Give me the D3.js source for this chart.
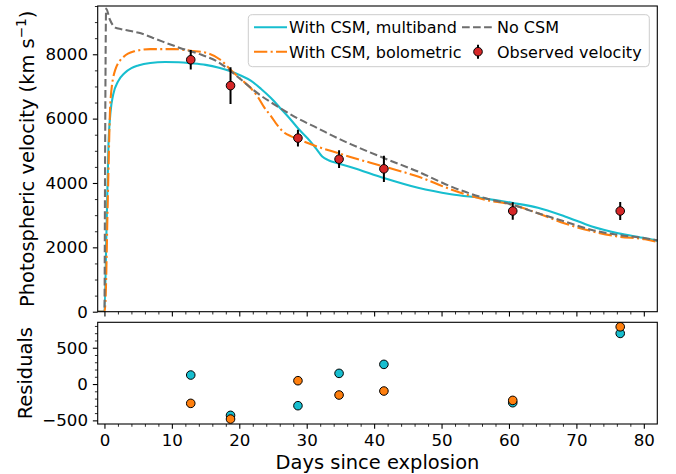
<!DOCTYPE html>
<html>
<head>
<meta charset="utf-8">
<script src="https://cdn.jsdelivr.net/npm/d3@7"></script>
<style>
  body { margin: 0; background: #fff; }
  svg text { font-family: "DejaVu Sans", sans-serif; fill: #000; }
</style>
</head>
<body>
<svg id="fig" width="676" height="474"></svg>
<script>
// ---- model curves: photospheric velocity (km/s) vs days since explosion ----
const multibandDays = [-1, 0, 0.3, 0.6, 0.9, 1.3, 2, 3, 4, 5, 6.8, 9, 11, 12.8, 15, 17, 18.7, 20.2, 21.7, 23.2, 24.7, 26.2, 27.7, 28.7, 30.6, 31.5, 32.3, 33.3, 34.6, 36.6, 41.5, 46.5, 51.4, 56.4, 60.4, 64.3, 68.3, 72.3, 76.2, 80.2, 82.2];
const multibandVel  = [0, 0, 2500, 5200, 6200, 6750, 7150, 7420, 7570, 7650, 7730, 7760, 7750, 7720, 7670, 7580, 7470, 7340, 7180, 6930, 6640, 6300, 5950, 5700, 5280, 5040, 4820, 4700, 4610, 4490, 4150, 3850, 3650, 3520, 3385, 3230, 2960, 2650, 2440, 2285, 2200];

const bolometricDays = [-1, 0, 0.15, 0.5, 0.9, 1.6, 2.9, 4.4, 6.8, 10.3, 12.8, 15.3, 17.2, 18.7, 20.2, 21.7, 22.7, 23.7, 24.7, 25.7, 26.7, 27.7, 28.6, 31.6, 34.6, 36.6, 41.5, 46.5, 51.4, 56.4, 60.4, 64.3, 68.3, 72.3, 76.2, 80.2, 82.2];
const bolometricVel  = [0, 0, 300, 3500, 6580, 7515, 7930, 8090, 8160, 8160, 8110, 8035, 7830, 7520, 7230, 6950, 6690, 6350, 6080, 5780, 5560, 5450, 5370, 5130, 4930, 4800, 4510, 4200, 3800, 3480, 3330, 3060, 2740, 2500, 2335, 2250, 2160];

const noCsmDays = [-1, 0, 0.1, 0.25, 0.8, 1.6, 2.5, 3.9, 5.4, 7.8, 11.3, 14.3, 16.7, 19.7, 22.7, 25.7, 28.6, 31.6, 34.6, 36.6, 41.5, 46.5, 51.4, 56.4, 60.4, 64.3, 68.3, 72.3, 76.2, 80.2, 82.2];
const noCsmVel  = [0, 0, 5000, 9420, 9080, 8830, 8780, 8720, 8650, 8460, 8190, 7990, 7780, 7310, 6790, 6375, 6015, 5705, 5390, 5200, 4770, 4355, 3890, 3530, 3330, 3060, 2800, 2540, 2385, 2285, 2210];

// ---- observed photospheric velocities ----
const obsDays = [12.8, 18.7, 28.7, 34.8, 41.45, 60.56, 76.5];
const obsVel  = [7830, 7025, 5395, 4740, 4440, 3130, 3130];
const obsErr  = [300, 570, 260, 275, 410, 270, 280];

// ---- residuals (observed minus model) ----
const residMultiband  = [124, -431, -298, 147, 271, -257, 697];
const residBolometric = [-266, -482, 46, -151, -96, -225, 788];

// ---- tick values ----
const dayTicks = [0, 10, 20, 30, 40, 50, 60, 70, 80];
const dayMinorTicks = d3.range(0, 82, 2);
const velTicks = [0, 2000, 4000, 6000, 8000];
const velMinorTicks = d3.range(0, 9501, 500);
const residTicks = [-500, 0, 500];
const residMinorTicks = d3.range(-500, 851, 100);

const legendEntries = ["With CSM, multiband", "No CSM", "With CSM, bolometric", "Observed velocity"];

// ---- styling ----
const C_MULTI = "#17becf", C_BOLO = "#ff7f0e", C_NOCSM = "#6e6e6e", C_OBS = "#d62728";
const LW = 2.08;
const DASH_BOLO = "13.3,3.33,2.08,3.33";
const DASH_NOCSM = "7.7,3.33";
const FONT_TICK = 16.67, FONT_LABEL = 19.44, FONT_LEGEND = 16;

const svg = d3.select("#fig");
svg.append("rect").attr("width", 676).attr("height", 474).attr("fill", "#fff");

const L = 97.7, R = 657.3;
const panelTop = { t: 6, b: 311.7 };
const panelBot = { t: 322.3, b: 424 };

const x = d3.scaleLinear().domain([-1, 82]).range([L, R]);
const yTop = d3.scaleLinear().domain([0, 9500]).range([panelTop.b, panelTop.t]);
const yBot = d3.scaleLinear().domain([-550, 850]).range([panelBot.b, panelBot.t]);

function styleAxis(g, labels) {
  g.select(".domain").remove();
  g.selectAll(".tick line").attr("stroke", "#000");
  g.selectAll(".tick text").attr("font-size", FONT_TICK).attr("font-family", "DejaVu Sans");
  if (!labels) g.selectAll(".tick text").remove();
}
function addAxis(axis, tx, ty, major, labels) {
  const g = svg.append("g").attr("transform", `translate(${tx},${ty})`).call(axis);
  styleAxis(g, labels);
  g.selectAll(".tick line").attr("stroke-width", major ? 1.1 : 0.83);
  return g;
}

// clip paths
svg.append("clipPath").attr("id", "clipTop").append("rect")
  .attr("x", L).attr("y", panelTop.t).attr("width", R - L).attr("height", panelTop.b - panelTop.t);
svg.append("clipPath").attr("id", "clipBot").append("rect")
  .attr("x", L - 6).attr("y", panelBot.t - 6).attr("width", R - L + 12).attr("height", panelBot.b - panelBot.t + 12);

// ---- top panel: model curves ----
const gTop = svg.append("g").attr("clip-path", "url(#clipTop)");
const line = d3.line().x(d => x(d[0])).y(d => yTop(d[1])).curve(d3.curveMonotoneX);

gTop.append("path").datum(d3.zip(multibandDays, multibandVel))
  .attr("d", line).attr("fill", "none").attr("stroke", C_MULTI).attr("stroke-width", LW);
gTop.append("path").datum(d3.zip(bolometricDays, bolometricVel))
  .attr("d", line).attr("fill", "none").attr("stroke", C_BOLO).attr("stroke-width", LW)
  .attr("stroke-dasharray", DASH_BOLO);
gTop.append("path").datum(d3.zip(noCsmDays, noCsmVel))
  .attr("d", line).attr("fill", "none").attr("stroke", C_NOCSM).attr("stroke-width", LW)
  .attr("stroke-dasharray", DASH_NOCSM);

// observed points with error bars
const obs = d3.zip(obsDays, obsVel, obsErr);
gTop.selectAll(".err").data(obs).join("line")
  .attr("x1", d => x(d[0])).attr("x2", d => x(d[0]))
  .attr("y1", d => yTop(d[1] - d[2])).attr("y2", d => yTop(d[1] + d[2]))
  .attr("stroke", "#000").attr("stroke-width", 2);
gTop.selectAll(".obs").data(obs).join("circle")
  .attr("cx", d => x(d[0])).attr("cy", d => yTop(d[1])).attr("r", 4.3)
  .attr("fill", C_OBS).attr("stroke", "#000").attr("stroke-width", 1);

// ---- bottom panel: residuals ----
const gBot = svg.append("g").attr("clip-path", "url(#clipBot)");
gBot.selectAll(".rm").data(d3.zip(obsDays, residMultiband)).join("circle")
  .attr("cx", d => x(d[0])).attr("cy", d => yBot(d[1])).attr("r", 4.3)
  .attr("fill", C_MULTI).attr("stroke", "#000").attr("stroke-width", 1);
gBot.selectAll(".rb").data(d3.zip(obsDays, residBolometric)).join("circle")
  .attr("cx", d => x(d[0])).attr("cy", d => yBot(d[1])).attr("r", 4.3)
  .attr("fill", C_BOLO).attr("stroke", "#000").attr("stroke-width", 1);

// ---- axes ----
const MAJ = 4.86, MIN = 2.78, PAD = 4.86;
// top panel
addAxis(d3.axisBottom(x).tickValues(dayMinorTicks.filter(d => d % 10 !== 0)).tickSize(MIN).tickSizeOuter(0), 0, panelTop.b, false, false);
addAxis(d3.axisBottom(x).tickValues(dayTicks).tickSize(MAJ).tickSizeOuter(0), 0, panelTop.b, true, false);
addAxis(d3.axisLeft(yTop).tickValues(velMinorTicks.filter(d => d % 2000 !== 0)).tickSize(MIN).tickSizeOuter(0), L, 0, false, false);
addAxis(d3.axisLeft(yTop).tickValues(velTicks).tickSize(MAJ).tickPadding(PAD).tickSizeOuter(0).tickFormat(d3.format("d")), L, 0, true, true);
// bottom panel
addAxis(d3.axisBottom(x).tickValues(dayMinorTicks.filter(d => d % 10 !== 0)).tickSize(MIN).tickSizeOuter(0), 0, panelBot.b, false, false);
addAxis(d3.axisBottom(x).tickValues(dayTicks).tickSize(MAJ).tickPadding(PAD).tickSizeOuter(0).tickFormat(d3.format("d")), 0, panelBot.b, true, true);
addAxis(d3.axisLeft(yBot).tickValues(residMinorTicks.filter(d => d % 500 !== 0)).tickSize(MIN).tickSizeOuter(0), L, 0, false, false);
addAxis(d3.axisLeft(yBot).tickValues(residTicks).tickSize(MAJ).tickPadding(PAD).tickSizeOuter(0).tickFormat(d3.format("d")), L, 0, true, true);

// spines
[panelTop, panelBot].forEach(p => {
  svg.append("rect").attr("x", L).attr("y", p.t).attr("width", R - L).attr("height", p.b - p.t)
    .attr("fill", "none").attr("stroke", "#000").attr("stroke-width", 1.1);
});

// axis labels
const yl = svg.append("text").attr("font-size", FONT_LABEL).attr("text-anchor", "middle")
  .attr("transform", `translate(34,${(panelTop.t + panelTop.b) / 2}) rotate(-90)`);
yl.append("tspan").text("Photospheric velocity (km s");
yl.append("tspan").attr("font-size", FONT_LABEL * 0.7).attr("dy", -8).text("\u22121");
yl.append("tspan").attr("dy", 8).text(")");

svg.append("text").attr("font-size", FONT_LABEL).attr("text-anchor", "middle")
  .attr("transform", `translate(32,${(panelBot.t + panelBot.b) / 2}) rotate(-90)`).text("Residuals");

svg.append("text").attr("font-size", FONT_LABEL).attr("text-anchor", "middle")
  .attr("x", (L + R) / 2).attr("y", 469).text("Days since explosion");

// ---- legend ----
const lg = svg.append("g");
lg.append("rect").attr("x", 248.3).attr("y", 14.7).attr("width", 401).attr("height", 52).attr("rx", 4)
  .attr("fill", "#fff").attr("fill-opacity", 0.8).attr("stroke", "#cccccc").attr("stroke-width", 1);
const row1 = 27.3, row2 = 51.7;
const col1 = 254, col2 = 462, hl = 33;
lg.append("line").attr("x1", col1).attr("x2", col1 + hl).attr("y1", row1).attr("y2", row1)
  .attr("stroke", C_MULTI).attr("stroke-width", LW);
lg.append("line").attr("x1", col1).attr("x2", col1 + hl).attr("y1", row2).attr("y2", row2)
  .attr("stroke", C_BOLO).attr("stroke-width", LW).attr("stroke-dasharray", DASH_BOLO);
lg.append("line").attr("x1", col2).attr("x2", col2 + hl).attr("y1", row1).attr("y2", row1)
  .attr("stroke", C_NOCSM).attr("stroke-width", LW).attr("stroke-dasharray", DASH_NOCSM);
lg.append("line").attr("x1", col2 + 16).attr("x2", col2 + 16).attr("y1", row2 - 7).attr("y2", row2 + 7)
  .attr("stroke", "#000").attr("stroke-width", 2);
lg.append("circle").attr("cx", col2 + 16).attr("cy", row2).attr("r", 4.3)
  .attr("fill", C_OBS).attr("stroke", "#000").attr("stroke-width", 1);
const textPos = [[col1 + hl + 2, row1], [col2 + hl + 2, row1], [col1 + hl + 2, row2], [col2 + hl + 2, row2]];
legendEntries.forEach((t, i) => {
  lg.append("text").attr("x", textPos[i][0]).attr("y", textPos[i][1] + 5.8)
    .attr("font-size", FONT_LEGEND).text(t);
});
</script>
</body>
</html>
